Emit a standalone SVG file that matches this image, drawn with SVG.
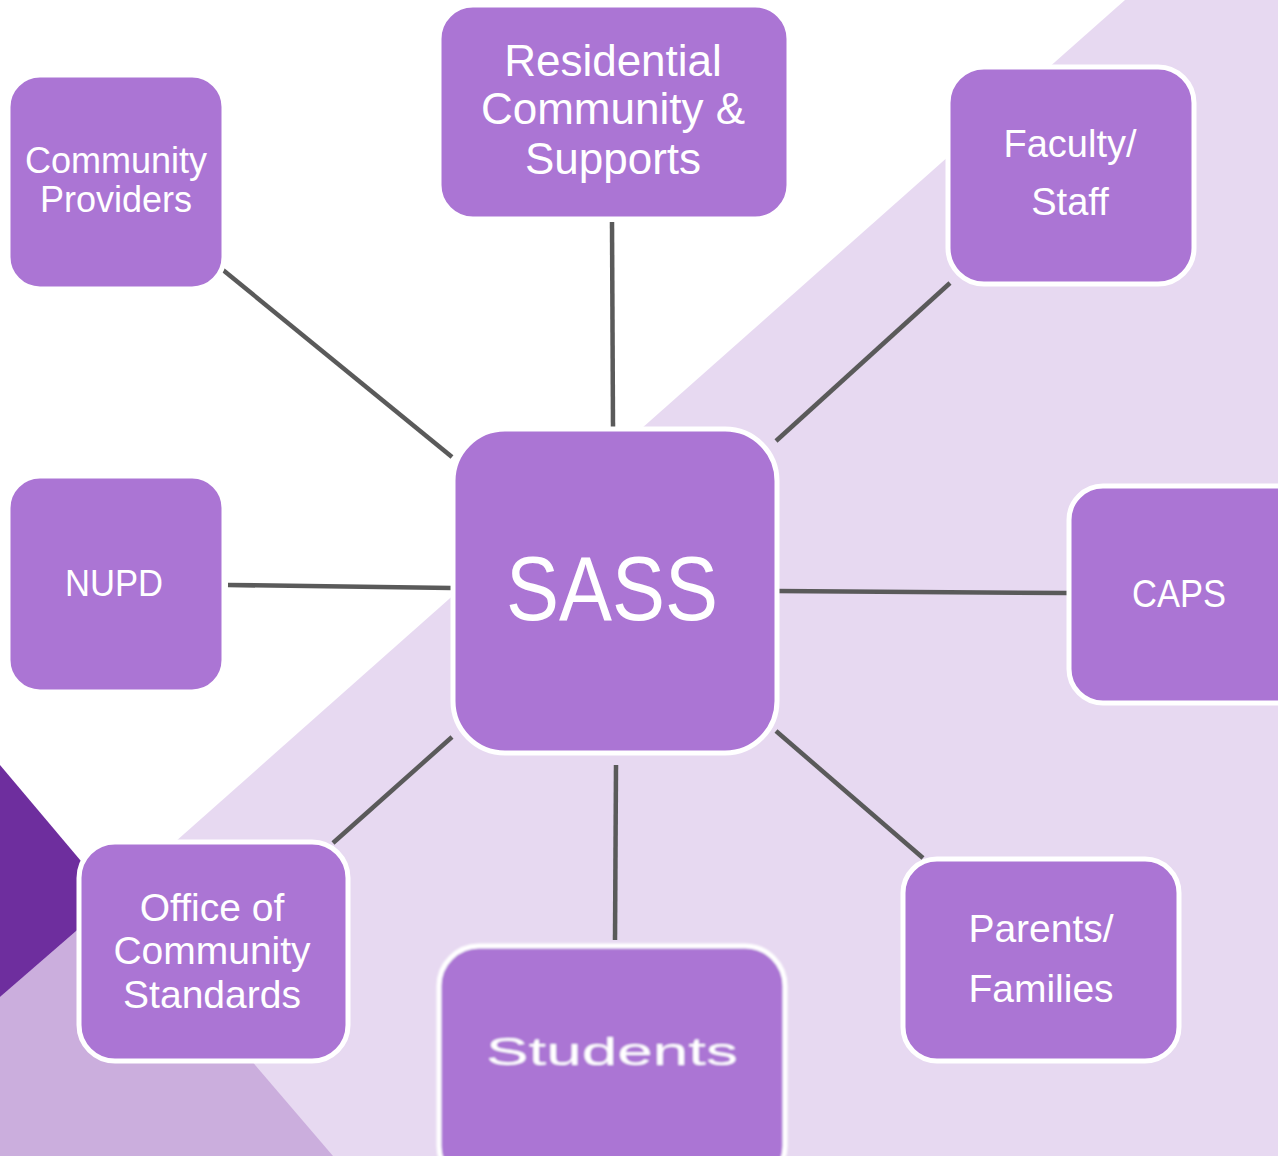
<svg xmlns="http://www.w3.org/2000/svg" width="1278" height="1156" viewBox="0 0 1278 1156">
  <defs>
    <style>
      .node { fill: #AB75D4; stroke: #FFFFFF; stroke-width: 5; }
      .label { fill: #FFFFFF; font-family: "Liberation Sans", Arial, sans-serif; text-anchor: middle; }
      .link { stroke: #5A5A5A; stroke-width: 4.5; fill: none; }
    </style>
    <filter id="soft" x="-5%" y="-5%" width="110%" height="110%">
      <feGaussianBlur stdDeviation="1.1"/>
    </filter>
  </defs>

  <!-- background bands -->
  <rect x="0" y="0" width="1278" height="1156" fill="#FFFFFF"/>
  <polygon points="1125,0 1278,0 1278,1156 0,1156 0,997" fill="#E7D9F1"/>
  <polygon points="113,899 0,997 0,1156 333,1156" fill="#CBAEDD"/>
  <polygon points="0,765 113,899 0,997" fill="#6E2E9E"/>

  <!-- connectors -->
  <g id="connectors">
    <line class="link" x1="223" y1="270" x2="452" y2="457"/>
    <line class="link" x1="612" y1="222" x2="613" y2="428"/>
    <line class="link" x1="950" y1="283" x2="776" y2="441"/>
    <line class="link" x1="228" y1="585" x2="452" y2="588"/>
    <line class="link" x1="776" y1="591" x2="1067" y2="593"/>
    <line class="link" x1="333" y1="843" x2="452" y2="737"/>
    <line class="link" x1="616" y1="765" x2="615" y2="940"/>
    <line class="link" x1="776" y1="731" x2="923" y2="858"/>
  </g>

  <g id="community-providers">
    <rect class="node" x="8" y="75" width="216" height="214" rx="32"/>
    <text class="label" font-size="36" x="116" y="173">Community</text>
    <text class="label" font-size="36" x="116" y="212">Providers</text>
  </g>

  <g id="residential">
    <rect class="node" x="439" y="5" width="350" height="214" rx="34"/>
    <text class="label" font-size="44" x="613" y="76">Residential</text>
    <text class="label" font-size="44" x="613" y="124">Community &amp;</text>
    <text class="label" font-size="44" x="613" y="174">Supports</text>
  </g>

  <g id="faculty-staff">
    <rect class="node" x="948" y="67" width="246" height="217" rx="36"/>
    <text class="label" font-size="38" x="1070" y="157">Faculty/</text>
    <text class="label" font-size="38" x="1070" y="215">Staff</text>
  </g>

  <g id="sass">
    <rect class="node" x="453" y="429" width="324" height="324" rx="52"/>
    <text class="label" font-size="90" x="612" y="620" textLength="212" lengthAdjust="spacingAndGlyphs">SASS</text>
  </g>

  <g id="nupd">
    <rect class="node" x="8" y="476" width="216" height="216" rx="32"/>
    <text class="label" font-size="36" x="114" y="596" textLength="98" lengthAdjust="spacingAndGlyphs">NUPD</text>
  </g>

  <g id="caps">
    <rect class="node" x="1069" y="486" width="250" height="217" rx="34"/>
    <text class="label" font-size="39" x="1179" y="607" textLength="94" lengthAdjust="spacingAndGlyphs">CAPS</text>
  </g>

  <g id="community-standards">
    <rect class="node" x="79" y="842" width="269" height="219" rx="36"/>
    <text class="label" font-size="39" x="212" y="921">Office of</text>
    <text class="label" font-size="39" x="212" y="964">Community</text>
    <text class="label" font-size="39" x="212" y="1008">Standards</text>
  </g>

  <g id="students" filter="url(#soft)">
    <rect class="node" x="439" y="946" width="346" height="240" rx="40"/>
    <text class="label" font-size="38" x="612" y="1065" textLength="252" lengthAdjust="spacingAndGlyphs">Students</text>
  </g>

  <g id="parents-families">
    <rect class="node" x="903" y="859" width="276" height="202" rx="34"/>
    <text class="label" font-size="39" x="1041" y="942">Parents/</text>
    <text class="label" font-size="39" x="1041" y="1002">Families</text>
  </g>
</svg>
